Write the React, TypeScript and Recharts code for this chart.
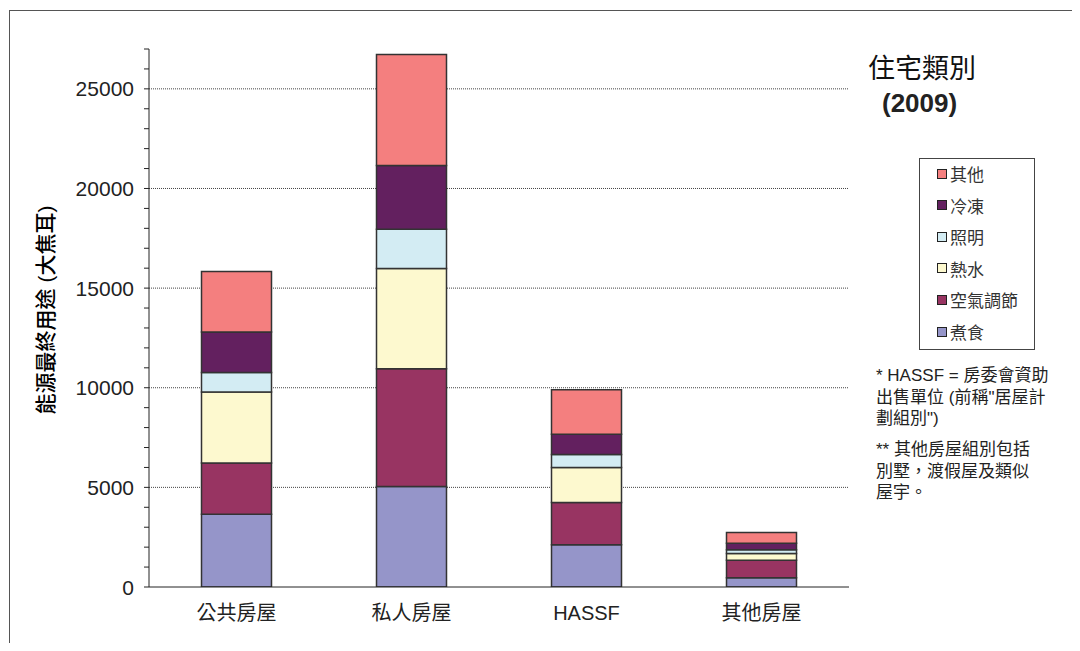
import React from 'react';
import { BarChart, Bar, XAxis, YAxis, CartesianGrid } from 'recharts';

const categories = ['公共房屋', '私人房屋', 'HASSF', '其他房屋'];
const cooking = [3650, 5040, 2125, 470];
const aircon = [2575, 5910, 2110, 870];
const hotWater = [3565, 5035, 1760, 335];
const lighting = [970, 1975, 655, 200];
const refrig = [2040, 3195, 1020, 320];
const others = [3030, 5565, 2230, 535];

const seriesNames = ['煮食', '空氣調節', '熱水', '照明', '冷凍', '其他'];
const seriesValues = [cooking, aircon, hotWater, lighting, refrig, others];
const seriesColors = ['#9595C9', '#983462', '#FDF9CF', '#D3ECF3', '#63205F', '#F47F7F'];

const majorTicks = [0, 5000, 10000, 15000, 20000, 25000];
const minorTicks = [0, 1000, 2000, 3000, 4000, 5000, 6000, 7000, 8000, 9000, 10000, 11000, 12000, 13000, 14000, 15000, 16000, 17000, 18000, 19000, 20000, 21000, 22000, 23000, 24000, 25000, 26000, 27000];
const edgeTicks = [0, 1, 2, 3, 4];

const titleText = '住宅類別';
const yearText = '(2009)';
const yLabel = '能源最終用途 (大焦耳)';
const noteLines1 = ['* HASSF = 房委會資助', '出售單位 (前稱"居屋計', '劃組別")'];
const noteLines2 = ['** 其他房屋組別包括', '別墅，渡假屋及類似', '屋宇。'];

const data = categories.map((name, i) => {
  const row: Record<string, string | number> = { name };
  seriesNames.forEach((s, k) => {
    row[s] = seriesValues[k][i];
  });
  return row;
});

const FONT = "'Liberation Sans', Arial, 'Noto Sans CJK TC', sans-serif";

const YTick = (props: any) => {
  const { x, y, payload } = props;
  if (majorTicks.indexOf(payload.value) < 0) return <g />;
  return (
    <text x={x} y={y} textAnchor="end" dominantBaseline="central" fontSize={21} fill="#222" fontFamily={FONT}>
      {payload.value}
    </text>
  );
};

const XTick = (props: any) => {
  const { x, y, payload } = props;
  return (
    <text x={x} y={y} textAnchor="middle" dy="0.8em" fontSize={20} fill="#222" fontFamily={FONT}>
      {payload.value}
    </text>
  );
};

const YLabel = (props: any) => {
  const vb = props.viewBox || {};
  const cy = (vb.y || 0) + (vb.height || 0) / 2 - 8;
  const cx = 37;
  return (
    <text x={cx} y={cy} transform={`rotate(-90 ${cx} ${cy})`} textAnchor="middle" dominantBaseline="central" fontSize={21} fontWeight={500} fill="#000" fontFamily={FONT}>
      {yLabel}
    </text>
  );
};

export default function App() {
  const legendItems = seriesNames.map((n, i) => ({ n, c: seriesColors[i] })).reverse();
  return (
    <div style={{ position: 'relative', width: 1064, height: 635, fontFamily: FONT, color: '#222' }}>
      <div style={{ position: 'absolute', left: 1, top: 2, right: -8, bottom: -8, borderTop: '1px solid #555', borderLeft: '1px solid #555', pointerEvents: 'none' }} />
      <BarChart width={1064} height={635} data={data} margin={{ top: 41, right: 223, bottom: 16, left: 61 }} barCategoryGap="30%">
        <CartesianGrid vertical={false} horizontalValues={majorTicks.slice(1)} stroke="#444" strokeDasharray="1 1" />
        <XAxis xAxisId="edges" type="number" domain={[0, 4]} ticks={edgeTicks} height={0} axisLine={false} tick={false} tickLine={{ stroke: '#222' }} tickSize={6} allowDataOverflow />
        <XAxis dataKey="name" height={40} tick={<XTick />} tickLine={false} axisLine={{ stroke: '#222' }} tickMargin={11} interval={0} />
        <XAxis xAxisId="top" orientation="top" type="number" domain={[0, 4]} height={0} tick={false} tickLine={false} axisLine={{ stroke: '#999' }} allowDataOverflow />
        <YAxis domain={[0, 27000]} ticks={minorTicks} interval={0} width={80} tick={<YTick />} tickSize={5} tickMargin={10} tickLine={{ stroke: '#222' }} axisLine={{ stroke: '#222' }} allowDataOverflow label={<YLabel />} />
        <YAxis yAxisId="r" orientation="right" domain={[0, 27000]} width={0} tick={false} tickLine={false} axisLine={{ stroke: '#999' }} allowDataOverflow />
        {seriesNames.map((s, k) => (
          <Bar key={s} dataKey={s} stackId="a" fill={seriesColors[k]} stroke="#333" strokeWidth={1.5} isAnimationActive={false} />
        ))}
      </BarChart>
      <div style={{ position: 'absolute', left: 860, top: 46, fontSize: 27, lineHeight: '30px', color: '#111' }}>{titleText}</div>
      <div style={{ position: 'absolute', left: 874, top: 80, fontSize: 26, lineHeight: '30px', fontWeight: 'bold', color: '#222' }}>{yearText}</div>
      <div style={{ position: 'absolute', left: 911, top: 150, width: 114, height: 190, border: '1px solid #444', background: '#fff' }}>
        {legendItems.map((it, i) => (
          <div key={it.n} style={{ position: 'absolute', left: 17, top: 17 + i * 31.6 - 13.5, height: 22, display: 'flex', alignItems: 'center', fontSize: 17, color: '#333', whiteSpace: 'nowrap' }}>
            <span style={{ display: 'inline-block', width: 8, height: 8, background: it.c, border: '1px solid #222', marginRight: 3 }} />
            {it.n}
          </div>
        ))}
      </div>
      <div style={{ position: 'absolute', left: 868, top: 357, fontSize: 17, lineHeight: '21.5px', color: '#222', whiteSpace: 'nowrap' }}>
        {noteLines1.map((l) => (
          <div key={l}>{l}</div>
        ))}
        <div style={{ height: 9.5 }} />
        {noteLines2.map((l) => (
          <div key={l}>{l}</div>
        ))}
      </div>
    </div>
  );
}
